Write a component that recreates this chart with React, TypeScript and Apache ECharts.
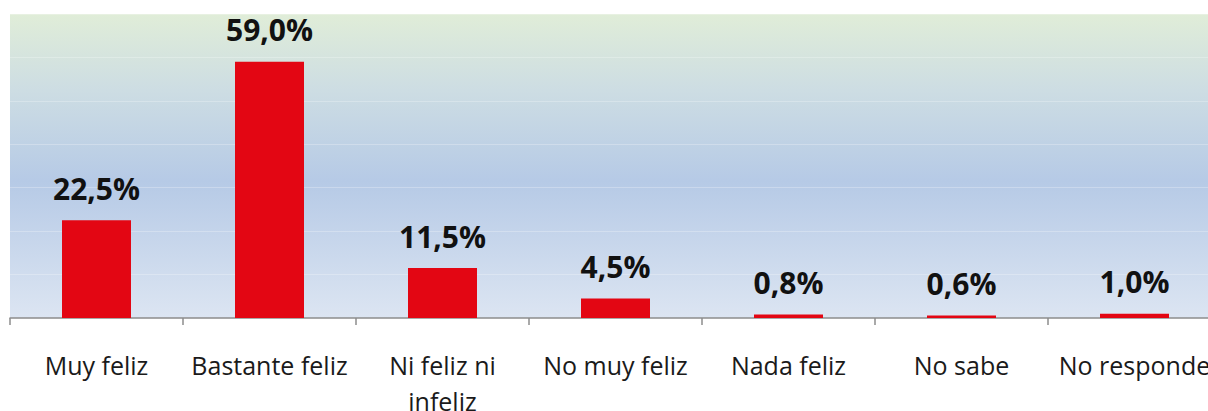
import React, { useEffect, useRef } from "react";
import * as echarts from "echarts";

const categories = [
  "Muy feliz",
  "Bastante feliz",
  "Ni feliz ni infeliz",
  "No muy feliz",
  "Nada feliz",
  "No sabe",
  "No responde",
];
const values = [22.5, 59.0, 11.5, 4.5, 0.8, 0.6, 1.0];
const yMax = 70;
const yInterval = 10;

export default function App() {
  const ref = useRef<HTMLDivElement>(null);
  useEffect(() => {
    if (!ref.current) return;
    const chart = echarts.init(ref.current, null, { renderer: "svg" });
    chart.setOption({
      animation: false,
      grid: {
        left: 10,
        top: 14,
        width: 1211,
        height: 304,
        outerBoundsMode: "none",
        containLabel: false,
        show: true,
        borderWidth: 0,
        backgroundColor: new echarts.graphic.LinearGradient(0, 0, 0, 1, [
          { offset: 0, color: "#e0edd8" },
          { offset: 0.25, color: "#cddde3" },
          { offset: 0.55, color: "#b6cae6" },
          { offset: 1, color: "#dce5f2" },
        ]),
      },
      xAxis: {
        type: "category",
        data: categories,
        axisLine: { lineStyle: { color: "#8c8c8c", width: 1.5 } },
        axisTick: { show: true, length: 7, lineStyle: { color: "#8c8c8c", width: 1.5 } },
        axisLabel: {
          interval: 0,
          hideOverlap: false,
          color: "#1a1a1a",
          fontFamily: "Open Sans",
          fontSize: 25,
          lineHeight: 36,
          margin: 29,
          formatter: (v: string) => (v.length > 16 ? v.replace(/ (\S+)$/, "\n$1") : v),
        },
      },
      yAxis: {
        type: "value",
        min: 0,
        max: yMax,
        interval: yInterval,
        show: true,
        axisLine: { show: false },
        axisTick: { show: false },
        axisLabel: { show: false },
        splitLine: { show: true, lineStyle: { color: "rgba(255,255,255,0.25)", width: 1 } },
      },
      series: [
        {
          type: "bar",
          data: values,
          barWidth: 69,
          itemStyle: { color: "#e30613" },
          label: {
            show: true,
            position: "top",
            distance: 17,
            color: "#111",
            fontFamily: "Open Sans",
            fontWeight: "bold",
            fontSize: 30,
            formatter: (p: any) => p.value.toFixed(1).replace(".", ",") + "%",
          },
        },
      ],
    });
    return () => chart.dispose();
  }, []);
  return (
    <div
      ref={ref}
      style={{ position: "absolute", left: 0, top: 0, width: 1208, height: 411 }}
    />
  );
}
